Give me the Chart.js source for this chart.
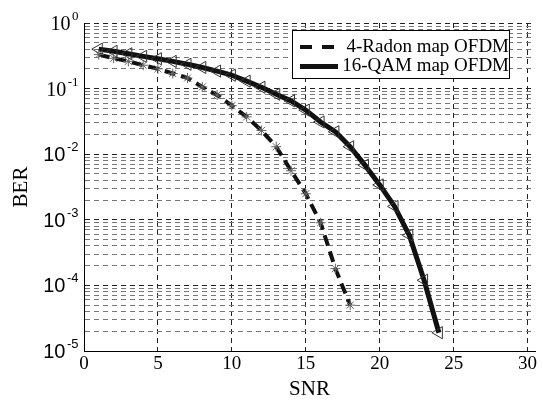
<!DOCTYPE html>
<html>
<head>
<meta charset="utf-8">
<script src="https://cdn.jsdelivr.net/npm/chart.js@4.4.0/dist/chart.umd.min.js"></script>
<style>
  html, body { margin: 0; padding: 0; background: #fff; }
  canvas { display: block; }
</style>
</head>
<body>
<canvas id="berChart" width="543" height="401"></canvas>
<script>
// BER vs SNR for the two OFDM mappings
const seriesNames = ['4-Radon map OFDM', '16-QAM map OFDM'];

const snrRadon = [1, 2, 3, 4, 5, 6, 7, 8, 9, 10, 11, 12, 13, 14, 15, 16, 17, 18];
const berRadon = [0.33, 0.29, 0.26, 0.227, 0.2, 0.17, 0.145, 0.106, 0.08, 0.055,
                  0.037, 0.023, 0.013, 0.0056, 0.0025, 9e-4, 1.8e-4, 5e-5];

const snrQam = [1, 2, 3, 4, 5, 6, 7, 8, 9, 10, 11, 12, 13, 14, 15, 16, 17, 18,
                19, 20, 21, 22, 23, 24];
const berQam = [0.4, 0.37, 0.34, 0.31, 0.285, 0.26, 0.235, 0.21, 0.185, 0.16,
                0.13, 0.105, 0.082, 0.065, 0.047, 0.031, 0.022, 0.013,
                0.0068, 0.0034, 0.0016, 5.8e-4, 1.2e-4, 1.9e-5];

const xTicks = [0, 5, 10, 15, 20, 25, 30];
const yExponents = [0, -1, -2, -3, -4, -5];
const minorSteps = [2, 3, 4, 5, 6, 7, 8, 9];

// decade ticks plus 2..9 in between, all get a grid line
const yTickList = [];
yExponents.forEach(e => {
  yTickList.push({ value: Math.pow(10, e), major: true });
  if (e < 0) {
    minorSteps.forEach(s => yTickList.push({ value: s * Math.pow(10, e), major: false }));
  }
});
yTickList.sort((a, b) => a.value - b.value);

// axis labels, y tick labels with exponents, and the boxed legend
const decorations = {
  id: 'decorations',
  afterDraw(chart) {
    const { ctx, chartArea, scales: { y } } = chart;
    ctx.save();
    ctx.fillStyle = '#000';

    yExponents.forEach(e => {
      const py = y.getPixelForValue(Math.pow(10, e));
      const family = e >= -1 ? 'Liberation Serif' : 'Liberation Sans';
      const sup = String(e);
      ctx.textAlign = 'left';
      ctx.textBaseline = 'alphabetic';
      ctx.font = '13px "' + family + '"';
      const supW = ctx.measureText(sup).width;
      ctx.fillText(sup, 78.5 - supW, py - 3);
      ctx.font = '20px "' + family + '"';
      const baseW = ctx.measureText('10').width;
      ctx.fillText('10', 78.5 - supW - 1.5 - baseW, py + 7);
    });

    ctx.font = '21px "Liberation Serif"';
    ctx.textAlign = 'center';
    ctx.textBaseline = 'alphabetic';
    ctx.fillText('SNR', (chartArea.left + chartArea.right) / 2, 395);

    ctx.save();
    ctx.translate(27, (chartArea.top + chartArea.bottom) / 2);
    ctx.rotate(-Math.PI / 2);
    ctx.fillText('BER', 0, 0);
    ctx.restore();

    // legend box
    ctx.fillStyle = '#fff';
    ctx.fillRect(292.5, 30.5, 217, 48);
    ctx.strokeStyle = '#000';
    ctx.lineWidth = 1;
    ctx.strokeRect(292.5, 30.5, 217, 48);

    ctx.strokeStyle = '#111';
    ctx.lineWidth = 4;
    ctx.setLineDash([12, 10]);
    ctx.beginPath();
    ctx.moveTo(300, 47);
    ctx.lineTo(335, 47);
    ctx.stroke();
    ctx.setLineDash([]);
    ctx.lineWidth = 5;
    ctx.beginPath();
    ctx.moveTo(300, 66.5);
    ctx.lineTo(338, 66.5);
    ctx.stroke();

    ctx.fillStyle = '#000';
    ctx.font = '19px "Liberation Serif"';
    ctx.textAlign = 'right';
    ctx.textBaseline = 'middle';
    ctx.fillText(seriesNames[0], 509, 47);
    ctx.fillText(seriesNames[1], 509, 66);
    ctx.restore();
  }
};

const ctx = document.getElementById('berChart').getContext('2d');
new Chart(ctx, {
  type: 'line',
  data: {
    datasets: [
      {
        label: seriesNames[0],
        data: snrRadon.map((s, i) => ({ x: s, y: berRadon[i] })),
        borderColor: '#111',
        borderWidth: 4,
        borderDash: [11, 6],
        borderJoinStyle: 'round',
        pointStyle: 'star',
        pointRadius: 5,
        pointBorderColor: '#666',
        pointBackgroundColor: '#666',
        pointBorderWidth: 1,
        tension: 0,
        fill: false
      },
      {
        label: seriesNames[1],
        data: snrQam.map((s, i) => ({ x: s, y: berQam[i] })),
        borderColor: '#111',
        borderWidth: 5,
        borderJoinStyle: 'round',
        pointStyle: 'triangle',
        pointRotation: -90,
        pointRadius: 7,
        pointBorderColor: '#333',
        pointBackgroundColor: 'rgba(0,0,0,0)',
        pointBorderWidth: 1,
        tension: 0,
        fill: false
      }
    ]
  },
  options: {
    responsive: false,
    animation: false,
    devicePixelRatio: 1,
    events: [],
    layout: { padding: { top: 23, right: 5, bottom: 0, left: 0 } },
    plugins: {
      legend: { display: false },
      tooltip: { enabled: false }
    },
    scales: {
      x: {
        type: 'linear',
        min: 0,
        max: 30.5,
        afterBuildTicks: axis => { axis.ticks = xTicks.map(v => ({ value: v })); },
        afterFit: axis => { axis.height = 50; },
        grid: { color: '#222', lineWidth: 1, drawTicks: false },
        border: { display: true, color: '#000', width: 1, dash: [5, 4] },
        ticks: {
          color: '#000',
          font: { family: 'Liberation Serif', size: 19 },
          padding: 2,
          maxRotation: 0,
          autoSkip: false
        }
      },
      y: {
        type: 'logarithmic',
        min: 1e-5,
        max: 1,
        afterBuildTicks: axis => { axis.ticks = yTickList.map(t => ({ value: t.value, major: t.major })); },
        afterFit: axis => { axis.width = 84; },
        grid: {
          color: c => (c.tick && c.tick.major ? '#222' : '#777'),
          lineWidth: 1,
          drawTicks: false
        },
        border: { display: true, color: '#000', width: 1, dash: [5, 4] },
        ticks: { display: false }
      }
    }
  },
  plugins: [decorations]
});
</script>
</body>
</html>
